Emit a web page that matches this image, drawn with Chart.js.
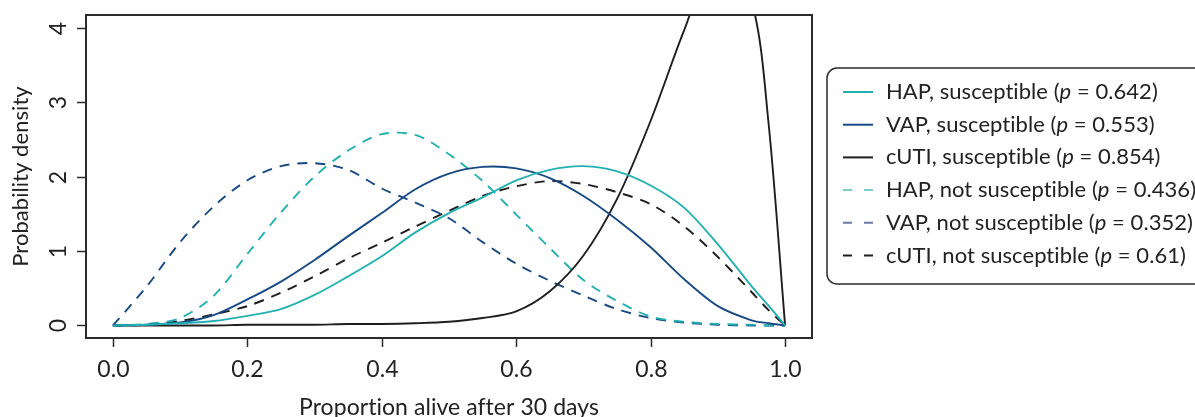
<!DOCTYPE html>
<html>
<head>
<meta charset="utf-8">
<script src="https://cdn.jsdelivr.net/npm/chart.js@4.4.1/dist/chart.umd.min.js"></script>
<style>
  html, body { margin: 0; padding: 0; background: #fff; }
  #wrap { width: 1195px; height: 417px; }
</style>
</head>
<body>
<div id="wrap"><canvas id="densityChart" width="1195" height="417"></canvas></div>
<script>
// Proportion alive after 30 days (x) and density values
const xValues = [0, 0.05, 0.1, 0.15, 0.2, 0.25, 0.3, 0.35, 0.4, 0.45, 0.5,
                 0.55, 0.6, 0.65, 0.7, 0.75, 0.8, 0.85, 0.9, 0.95, 0.975, 1.0];

const hapSusceptible = [0, 0.01, 0.03, 0.06, 0.13, 0.22, 0.41, 0.66, 0.93, 1.25, 1.51,
                        1.72, 1.95, 2.09, 2.14, 2.07, 1.88, 1.58, 1.09, 0.53, 0.27, 0];
const vapSusceptible = [0, 0.01, 0.04, 0.14, 0.35, 0.59, 0.88, 1.20, 1.51, 1.83, 2.04,
                        2.13, 2.11, 1.98, 1.74, 1.42, 1.05, 0.62, 0.26, 0.07, 0.03, 0];
const cutiSusceptible = [0, 0, 0, 0, 0.01, 0.01, 0.01, 0.02, 0.02, 0.03, 0.05,
                         0.10, 0.19, 0.46, 0.94, 1.70, 2.75, 3.97, 5.0, 4.35, 2.75, 0];
const hapNotSusceptible = [0, 0.02, 0.10, 0.40, 0.96, 1.52, 2.00, 2.35, 2.57, 2.56, 2.30,
                           1.94, 1.49, 1.04, 0.61, 0.33, 0.12, 0.05, 0.02, 0.01, 0, 0];
const vapNotSusceptible = [0, 0.52, 1.12, 1.60, 1.95, 2.14, 2.18, 2.09, 1.84, 1.65, 1.44,
                           1.12, 0.83, 0.60, 0.40, 0.22, 0.10, 0.04, 0.01, 0, 0, 0];
const cutiNotSusceptible = [0, 0.01, 0.06, 0.15, 0.26, 0.44, 0.66, 0.90, 1.11, 1.33, 1.54,
                            1.74, 1.87, 1.94, 1.90, 1.79, 1.63, 1.33, 0.92, 0.45, 0.21, 0];

const seriesNames = ['HAP, susceptible', 'VAP, susceptible', 'cUTI, susceptible',
                     'HAP, not susceptible', 'VAP, not susceptible', 'cUTI, not susceptible'];
const pValues = ['0.642', '0.553', '0.854', '0.436', '0.352', '0.61'];

const xTicks = [0, 0.2, 0.4, 0.6, 0.8, 1.0];
const xTickLabels = ['0.0', '0.2', '0.4', '0.6', '0.8', '1.0'];
const yTicks = [0, 1, 2, 3, 4];

const TEAL = '#22b0b2';
const NAVY = '#174a85';
const BLACK = '#1e1e1e';
const FONT = 'Lato, "Open Sans", sans-serif';

function toPoints(ys) {
    return xValues.map((x, i) => ({ x: x, y: ys[i] }));
}

function lineSet(label, ys, color, dashed) {
    return {
        label: label,
        data: toPoints(ys),
        borderColor: color,
        borderWidth: 1.9,
        borderDash: dashed ? [10, 8] : [],
        pointRadius: 0,
        fill: false,
        tension: 0.3
    };
}

// R-style frame, ticks, axis labels and legend
const frameAndLegend = {
    id: 'frameAndLegend',
    afterDraw(chart) {
        const ctx = chart.ctx;
        const area = chart.chartArea;
        const xs = chart.scales.x;
        const ys = chart.scales.y;
        ctx.save();
        // a tiny spacing keeps Lato from joining "ti" into a ligature
        ctx.letterSpacing = '0.05px';

        // box
        ctx.strokeStyle = '#2b2b2b';
        ctx.lineWidth = 2;
        ctx.strokeRect(area.left, area.top, area.right - area.left, area.bottom - area.top);

        ctx.fillStyle = '#222';
        ctx.font = '23px ' + FONT;
        ctx.lineWidth = 1.5;

        // x ticks
        ctx.textAlign = 'center';
        ctx.textBaseline = 'alphabetic';
        xTicks.forEach((v, i) => {
            const px = Math.round(xs.getPixelForValue(v)) + 0.5;
            ctx.beginPath();
            ctx.moveTo(px, area.bottom);
            ctx.lineTo(px, area.bottom + 9);
            ctx.stroke();
            ctx.fillText(xTickLabels[i], px, 377);
        });

        // y ticks, labels rotated like R
        yTicks.forEach(v => {
            const py = Math.round(ys.getPixelForValue(v)) + 0.5;
            ctx.beginPath();
            ctx.moveTo(area.left, py);
            ctx.lineTo(area.left - 9, py);
            ctx.stroke();
            ctx.save();
            ctx.translate(66, py);
            ctx.rotate(-Math.PI / 2);
            ctx.fillText(String(v), 0, 0);
            ctx.restore();
        });

        // axis titles
        ctx.fillText('Proportion alive after 30 days', (area.left + area.right) / 2, 415);
        ctx.font = '22px ' + FONT;
        ctx.save();
        ctx.translate(28, (area.top + area.bottom) / 2);
        ctx.rotate(-Math.PI / 2);
        ctx.fillText('Probability density', 0, 0);
        ctx.restore();

        // legend box with rounded corners
        const lx = 827, ly = 68, lw = 420, lh = 216, r = 10;
        ctx.strokeStyle = '#2b2b2b';
        ctx.lineWidth = 1.5;
        ctx.beginPath();
        ctx.roundRect(lx, ly, lw, lh, r);
        ctx.stroke();

        const legendColors = [TEAL, NAVY, BLACK, '#7ccdd0', '#6c79a8', BLACK];
        ctx.textAlign = 'left';
        ctx.textBaseline = 'middle';
        chart.data.datasets.forEach((ds, i) => {
            const cy = 92 + i * 32.7;
            ctx.strokeStyle = legendColors[i];
            ctx.lineWidth = 2;
            ctx.setLineDash(i >= 3 ? [9, 12] : []);
            ctx.beginPath();
            ctx.moveTo(843, cy);
            ctx.lineTo(873, cy);
            ctx.stroke();
            ctx.setLineDash([]);

            let tx = 886;
            const parts = [
                [seriesNames[i] + ' (', '22px ' + FONT],
                ['p', 'italic 22px ' + FONT],
                [' = ' + pValues[i] + ')', '22px ' + FONT]
            ];
            parts.forEach(p => {
                ctx.font = p[1];
                ctx.fillText(p[0], tx, cy);
                tx += ctx.measureText(p[0]).width;
            });
        });

        ctx.restore();
    }
};

const chart = new Chart(document.getElementById('densityChart').getContext('2d'), {
    type: 'line',
    data: {
        datasets: [
            lineSet(seriesNames[0], hapSusceptible, TEAL, false),
            lineSet(seriesNames[1], vapSusceptible, NAVY, false),
            lineSet(seriesNames[2], cutiSusceptible, BLACK, false),
            lineSet(seriesNames[3], hapNotSusceptible, TEAL, true),
            lineSet(seriesNames[4], vapNotSusceptible, NAVY, true),
            lineSet(seriesNames[5], cutiNotSusceptible, BLACK, true)
        ]
    },
    options: {
        responsive: false,
        animation: false,
        devicePixelRatio: 1,
        layout: { padding: { left: 86, right: 383, top: 15, bottom: 79 } },
        plugins: {
            legend: { display: false },
            tooltip: { enabled: false }
        },
        scales: {
            x: { type: 'linear', min: -0.04, max: 1.04, display: false },
            y: { type: 'linear', min: -0.168, max: 4.17, display: false }
        }
    },
    plugins: [frameAndLegend]
});
</script>
</body>
</html>
